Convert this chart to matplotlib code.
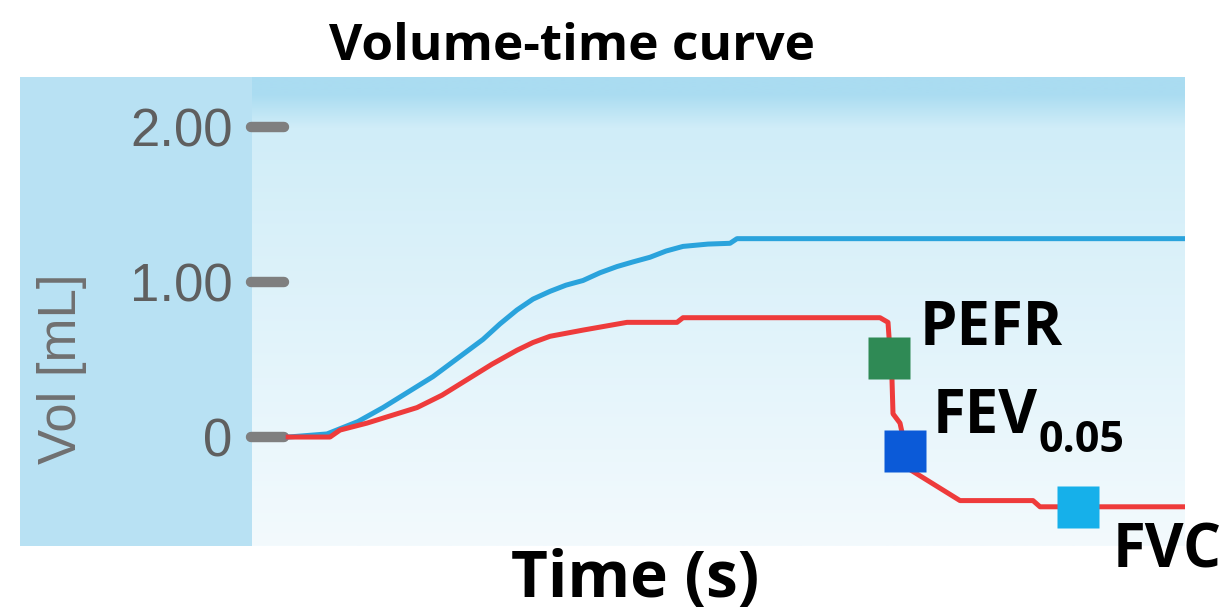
import numpy as np
import matplotlib
matplotlib.use("Agg")
import matplotlib.pyplot as plt
from matplotlib.patches import Rectangle

# ---- data (time in s, volume in mL) ----
blue_t = [0.00, 0.39, 0.70, 0.95, 1.20, 1.45, 1.70, 1.95, 2.12, 2.29, 2.45, 2.62, 2.78, 2.95,
          3.12, 3.29, 3.45, 3.62, 3.78, 3.95, 4.20, 4.42, 4.49, 8.97]
blue_v = [0.00, 0.02, 0.10, 0.19, 0.29, 0.39, 0.51, 0.63, 0.73, 0.82, 0.89, 0.94, 0.98, 1.01,
          1.06, 1.10, 1.13, 1.16, 1.20, 1.23, 1.245, 1.25, 1.28, 1.28]

red_t = [0.00, 0.42, 0.52, 0.79, 1.04, 1.29, 1.54, 1.79, 2.04, 2.29, 2.45, 2.62, 2.95, 3.39,
         3.89, 3.95, 5.92, 6.00, 6.04, 6.05, 6.12, 6.22, 6.72, 7.45, 7.52, 8.97]
red_v = [0.00, 0.00, 0.045, 0.09, 0.14, 0.19, 0.27, 0.37, 0.47, 0.56, 0.61, 0.65, 0.69, 0.74,
         0.74, 0.77, 0.77, 0.74, 0.37, 0.15, 0.09, -0.21, -0.41, -0.41, -0.45, -0.45]

marker_names = ["PEFR", "FEV", "FVC"]
marker_t = [6.01, 6.17, 7.90]
marker_v = [0.51, -0.09, -0.45]
marker_colors = ["#2f8a55", "#0b5ad8", "#16b0ea"]

yticks = [0, 1, 2]
ytick_labels = ["0", "1.00", "2.00"]

W, H = 1229, 613
fig = plt.figure(figsize=(W / 100, H / 100), dpi=100)
fig.patch.set_facecolor("white")

# panel geometry in pixels
L, R, T, B = 252, 1185, 77, 546
ax = fig.add_axes([L / W, (H - B) / H, (R - L) / W, (B - T) / H])
ax.set_xlim(-0.36, 8.97)
ax.set_ylim(-0.703, 2.323)

# left light-blue panel
fig.patches.append(Rectangle((20 / W, (H - B) / H), (L - 20) / W, (B - T) / H,
                             transform=fig.transFigure, facecolor="#b8e1f3",
                             edgecolor="none", zorder=-5))

# background gradient in plot area
n = 400
fy = np.linspace(0, 1, n)  # 0 at top
top_c = np.array([170, 220, 241]) / 255
mid_c = np.array([208, 237, 248]) / 255
bot_c = np.array([243, 250, 253]) / 255
cols = np.zeros((n, 1, 3))
band = 28 / (B - T)
for i, f in enumerate(fy):
    if f < band * 0.6:
        c = top_c
    elif f < band * 1.8:
        k = (f - band * 0.6) / (band * 1.2)
        c = top_c * (1 - k) + mid_c * k
    else:
        k = (f - band * 1.8) / (1 - band * 1.8)
        c = mid_c * (1 - k) + bot_c * k
    cols[i, 0] = c
ax.imshow(cols, aspect="auto", extent=[0, 1, 0, 1], transform=ax.transAxes, zorder=0,
          interpolation="bilinear")

for s in ax.spines.values():
    s.set_visible(False)

# ticks (rounded grey dashes)
for yv in yticks:
    ax.plot([-0.001, 0.034], [yv, yv], transform=ax.get_yaxis_transform(),
            color="#7f7f7f", lw=7.5, solid_capstyle="round", clip_on=False, zorder=3)

ax.set_xticks([])
ax.set_yticks(yticks, ytick_labels)
ax.tick_params(axis="y", length=0, pad=14, labelsize=38, labelcolor="#5f5f5f")
for lab in ax.get_yticklabels():
    lab.set_fontfamily("Liberation Sans")

ax.set_ylabel("Vol [mL]", fontsize=38, color="#707070", family="Liberation Sans", va="center")
ax.yaxis.set_label_coords((62 - L) / (R - L), (B - 369) / (B - T))

# curves
ax.plot(blue_t, blue_v, color="#2aa3dc", lw=3.6, zorder=4, solid_joinstyle="round")
ax.plot(red_t, red_v, color="#ee3b3b", lw=3.6, zorder=5, solid_joinstyle="round")

for tt, vv, cc in zip(marker_t, marker_v, marker_colors):
    ax.plot([tt], [vv], marker="s", ms=30, color=cc, mec="none", zorder=6, clip_on=False)

bold = dict(family="Open Sans", weight="bold", color="black")
ax.text(6.32, 0.594, "PEFR", fontsize=43, va="baseline", ha="left", clip_on=False, **bold)
ax.text(6.45, 0.026, "FEV", fontsize=43, va="baseline", ha="left", clip_on=False, **bold)
ax.text(7.50, -0.097, "0.05", fontsize=31, va="baseline", ha="left", clip_on=False, **bold)
ax.text(8.25, -0.839, "FVC", fontsize=43, va="baseline", ha="left", clip_on=False, **bold)

ax.set_xlabel("Time (s)", fontsize=46, va="baseline", **bold)
ax.xaxis.set_label_coords((635 - L) / (R - L), (B - 597) / (B - T))

fig.text(572 / W, (H - 60) / H, "Volume-time curve", fontsize=37, ha="center",
         va="baseline", **bold)

fig.savefig("out.png", dpi=100, facecolor="white")
